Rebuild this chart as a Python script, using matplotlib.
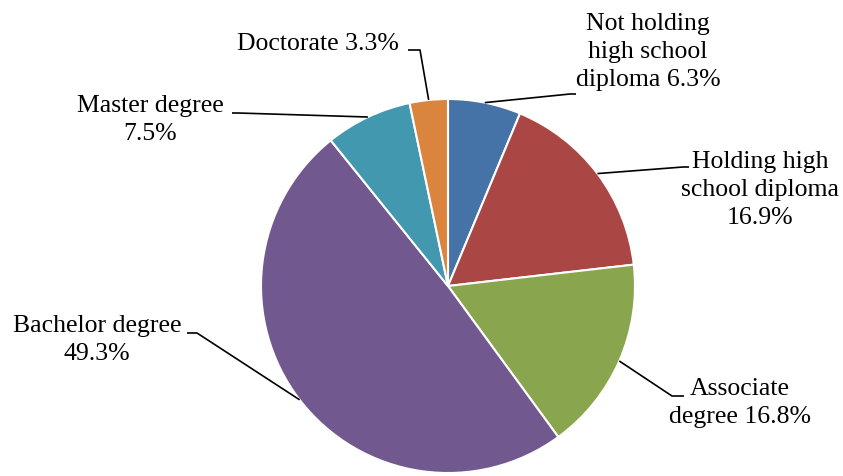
import matplotlib
matplotlib.use("Agg")
import matplotlib.pyplot as plt
import numpy as np

labels = ["Not holding\nhigh school\ndiploma", "Holding high\nschool diploma\n",
          "Associate\ndegree ", "Bachelor degree\n", "Master degree\n", "Doctorate "]
shares = [6.3, 16.9, 16.8, 49.3, 7.5, 3.3]
colors = ["#4572A7", "#AA4643", "#89A54E", "#71588F", "#4198AF", "#DB843D"]

# label block centres and leader elbows, in pixels from the top-left corner
text_pos = [(648, 52), (760, 190), (740, 403), (97, 340), (150, 120), (318, 44)]
elbows = [((570, 94), (576, 94)), ((683, 167), (689, 167)), ((672, 396), (684, 396)),
          ((197, 333), (187, 333)), ((238, 113), (232, 113)), ((420, 50), (408, 50))]

W, H = 843, 476
cx, cy, r = 448, 286, 187

fig = plt.figure(figsize=(W / 100, H / 100), dpi=100)
ax = fig.add_axes([0, 0, 1, 1])

wedges, _ = ax.pie(shares, colors=colors, startangle=90, counterclock=False,
                   center=(cx, H - cy), radius=r, frame=True,
                   wedgeprops=dict(edgecolor="white", linewidth=1.5))
ax.set_xlim(0, W)
ax.set_ylim(0, H)
ax.set_aspect("equal")
ax.axis("off")

for w, lab, val, (tx, ty), (e1, e2) in zip(wedges, labels, shares, text_pos, elbows):
    ang = np.deg2rad((w.theta1 + w.theta2) / 2)
    px = cx + r * np.cos(ang)
    py = (H - cy) + r * np.sin(ang)
    ax.plot([px, e1[0], e2[0]], [py, H - e1[1], H - e2[1]],
            color="black", lw=1.2, solid_capstyle="butt")
    sep = "" if lab.endswith(("\n", " ")) else " "
    ax.text(tx, H - ty, f"{lab}{sep}{val}%", ha="center", va="center",
            fontsize=18.5, family="Liberation Serif", linespacing=1.38)

fig.savefig("out.png", dpi=100)
